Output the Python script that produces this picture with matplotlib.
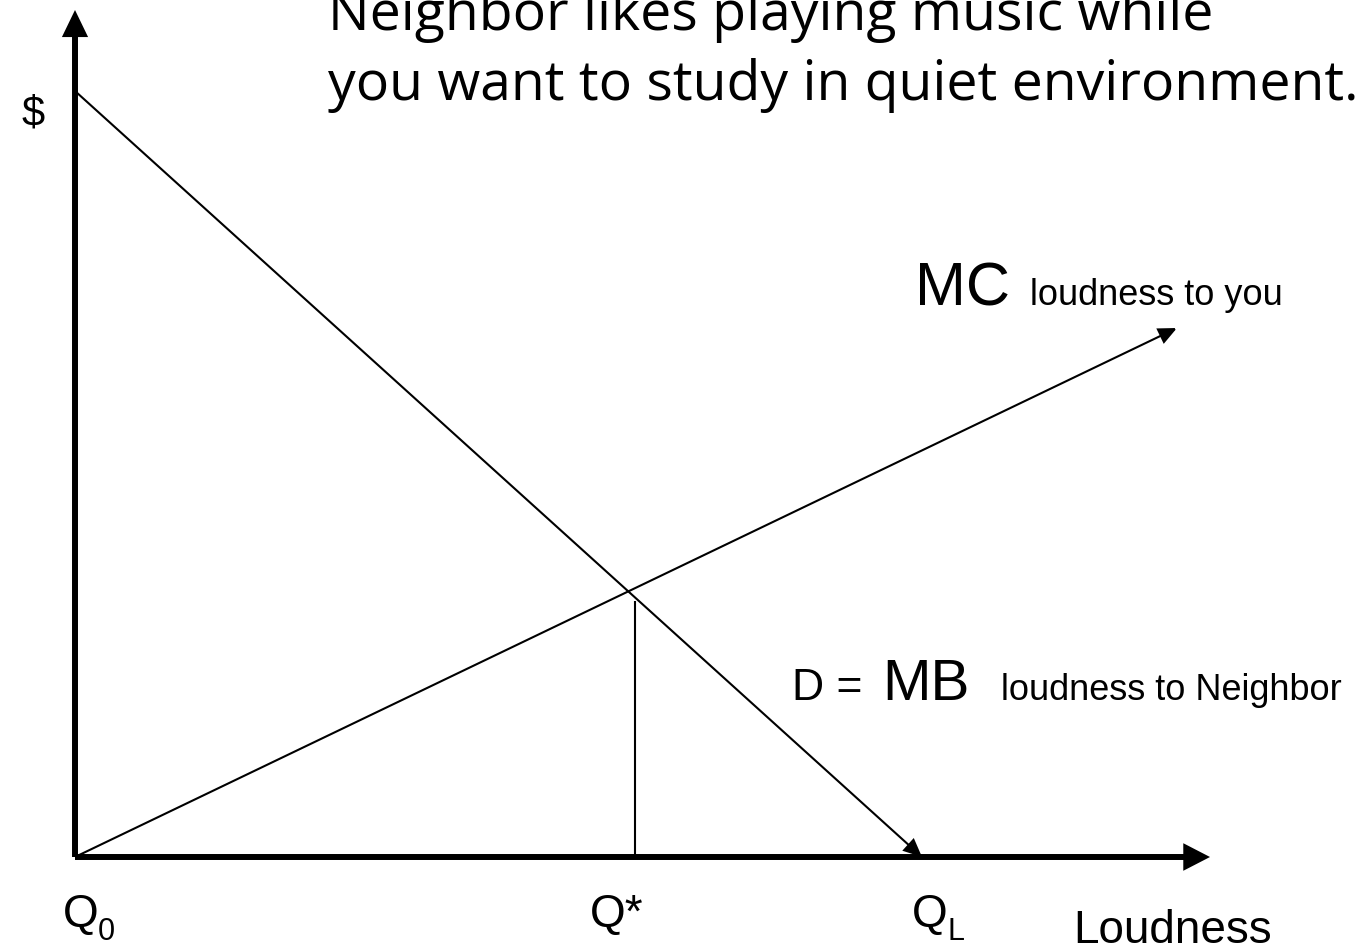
import matplotlib
matplotlib.use("Agg")
import matplotlib.pyplot as plt

# Market data for the loudness externality diagram
q_demand = [0.0, 8.47]      # quantity of loudness along D = MB
p_demand = [7.66, 0.0]      # neighbour's marginal benefit
q_mc = [0.0, 11.02]         # quantity of loudness along MC
p_mc = [0.0, 5.29]          # your marginal cost
q_star = 5.6                # efficient loudness
p_star = 2.56               # height of the drop line at Q*
x_axis_end = 11.35
y_axis_end = 8.47

title_lines = ["Neighbor likes playing music while",
               "you want to study in quiet environment."]
tick_main = ["Q", "Q*", "Q"]
tick_sub = ["0", "", "L"]
tick_positions = [0.0, q_star, q_demand[1]]

plt.rcParams["font.family"] = ["Liberation Sans", "DejaVu Sans"]

fig = plt.figure(figsize=(13.59, 9.5), dpi=100)
ax = fig.add_axes([0, 0, 1, 1])
ax.set_xlim(-0.75, 12.84)
ax.set_ylim(-0.93, 8.57)
ax.axis("off")


def arrow(x0, y0, x1, y1, lw, hl, hw):
    ax.annotate("", xy=(x1, y1), xytext=(x0, y0),
                arrowprops=dict(arrowstyle=f"-|>,head_length={hl},head_width={hw}",
                                lw=lw, color="black", fc="black",
                                shrinkA=0, shrinkB=0, mutation_scale=20,
                                joinstyle="miter", capstyle="butt"))


# Axes with arrowheads
arrow(0, 0, x_axis_end, 0, 4.3, 0.62, 0.32)
arrow(0, 0, 0, y_axis_end, 4.3, 0.62, 0.30)

# Demand (MB) and marginal cost curves
arrow(q_demand[0], p_demand[0], q_demand[1], p_demand[1], 1.5, 0.55, 0.25)
arrow(q_mc[0], p_mc[0], q_mc[1], p_mc[1], 1.5, 0.55, 0.25)

# Drop line at the efficient quantity
ax.plot([q_star, q_star], [0, p_star], color="black", lw=1.5, solid_capstyle="butt")

# Quantity labels under the horizontal axis
offsets = [-0.12, -0.45, -0.10]
for pos, main, sub, off in zip(tick_positions, tick_main, tick_sub, offsets):
    ax.text(pos + off, -0.70, main, fontsize=33, ha="left", va="baseline")
    if sub:
        ax.text(pos + off + 0.35, -0.83, sub, fontsize=22, ha="left", va="baseline")

ax.text(9.98, -0.86, "Loudness", fontsize=33, ha="left", va="baseline")
ax.text(-0.42, 7.42, "$", fontsize=30, ha="center", va="center")

# Curve labels
ax.text(8.40, 5.52, "MC", fontsize=44, ha="left", va="baseline")
ax.text(9.55, 5.52, "loudness to you", fontsize=26, ha="left", va="baseline")
ax.text(7.17, 1.57, "D =", fontsize=32, ha="left", va="baseline")
ax.text(8.07, 1.57, "MB", fontsize=42, ha="left", va="baseline")
ax.text(9.26, 1.57, "loudness to Neighbor", fontsize=26, ha="left", va="baseline")

# Heading
for line, y in zip(title_lines, [8.27, 7.57]):
    ax.text(2.53, y, line, fontsize=39.9, family=["Open Sans", "DejaVu Sans"],
            ha="left", va="baseline")

fig.savefig("out.png", dpi=100)
